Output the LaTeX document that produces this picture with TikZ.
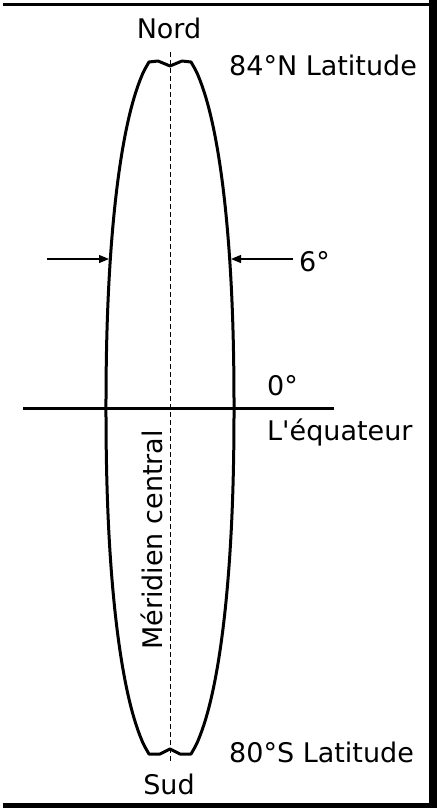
\documentclass[tikz,border=0pt]{standalone}
\usepackage{fontspec}
\newfontfamily\lblfont{DejaVu Sans}
\usetikzlibrary{arrows.meta}
\begin{document}
\begin{tikzpicture}[x=1pt,y=-1pt,
  lens/.style={line width=3pt, line join=round},
  lbl/.style={font=\lblfont\fontsize{27}{30}\selectfont, inner sep=0pt},
  ptr/.style={line width=1.2pt, -{Triangle[length=10pt,width=8pt]}},
  meridian/.style={line width=1pt, dash pattern=on 5pt off 3pt},
  equator/.style={line width=3pt},
  framebar/.style={fill=black}]
\useasboundingbox (0,0) rectangle (439,808);
% frame
\fill[framebar] (3,3) rectangle (432,6);
\fill[framebar] (429,0) rectangle (437,808);
\fill[framebar] (3,803) rectangle (437,808);
% lens (zone)
\draw[lens]
  plot[domain=-346:346, samples=120, variable=\t]
    ({170 - 64*(1-(max(abs(\t),0.01)/360.4)^2.2)^(1/2.2)}, {408+\t})
  -- (160,754) -- (170,749) -- (180,754)
  -- plot[domain=346:-346, samples=120, variable=\t]
    ({170 + 64*(1-(max(abs(\t),0.01)/360.4)^2.2)^(1/2.2)}, {408+\t})
  -- (182,61) -- (170,66) -- (158,61) -- cycle;
% central meridian
\coordinate (mtop) at (170,52);
\coordinate (mbot) at (170,763);
\draw[meridian] (mtop) -- (mbot);
% equator
\coordinate (eqL) at (23,408);
\coordinate (eqR) at (334,408);
\draw[equator] (eqL) -- (eqR);
% arrows for 6 degrees
\coordinate (la0) at (47,259);
\coordinate (latip) at (109,259);
\coordinate (ra0) at (293,259);
\coordinate (ratip) at (231,259);
\draw[ptr] (la0) -- (latip);
\draw[ptr] (ra0) -- (ratip);
% labels
\node[lbl, anchor=base] (nord) at (169,39) {Nord};
\node[lbl, anchor=base west] (lat84) at (229,75) {84°N Latitude};
\node[lbl, anchor=base west] (six) at (299,271) {6°};
\node[lbl, anchor=base west] (zero) at (267,395) {0°};
\node[lbl, anchor=base west] (equ) at (267,440) {L'équateur};
\node[lbl, anchor=base, rotate=90] (mer) at (162,540) {Méridien central};
\node[lbl, anchor=base west] (lat80) at (229,762) {80°S Latitude};
\node[lbl, anchor=base] (sud) at (169,794) {Sud};
\end{tikzpicture}
\end{document}
